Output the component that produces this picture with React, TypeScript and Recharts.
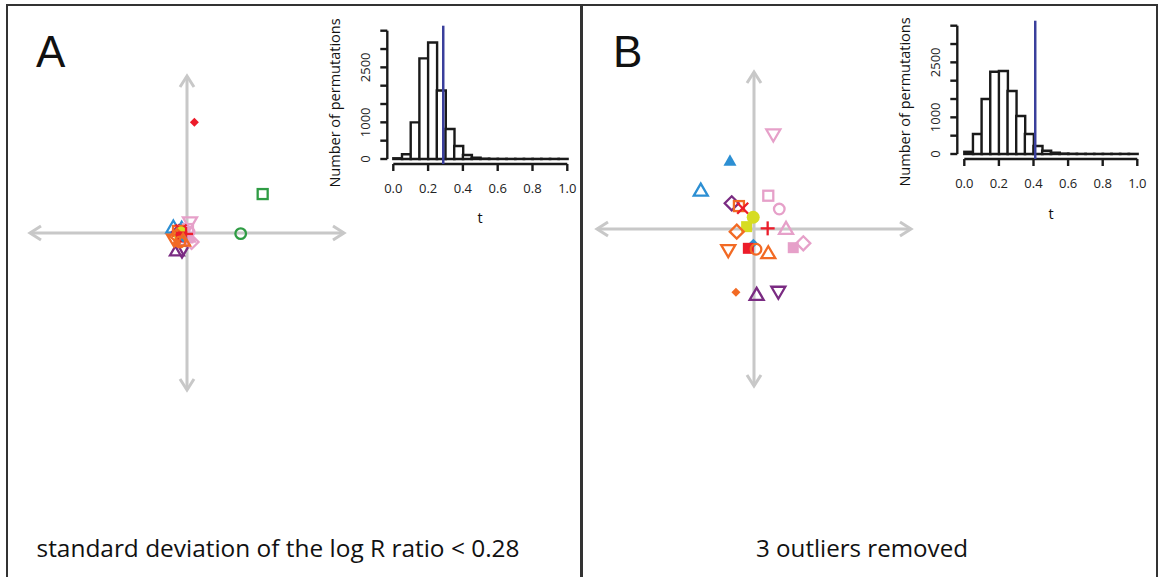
import React from 'react';
import { Bar, BarChart, ReferenceLine, Scatter, ScatterChart, XAxis, YAxis } from 'recharts';

// histogram bins (t, bin width 0.05) and permutation counts
const BIN_MIDS = [
  0.025, 0.075, 0.125, 0.175, 0.225, 0.275, 0.325, 0.375, 0.425, 0.475,
  0.525, 0.575, 0.625, 0.675, 0.725, 0.775, 0.825, 0.875, 0.925, 0.975,
];
const COUNTS_A = [20, 130, 1000, 2745, 3180, 1870, 820, 355, 110, 36, 10, 5, 4, 3, 3, 3, 3, 3, 3, 3];
const COUNTS_B = [60, 545, 1500, 2245, 2265, 1720, 1035, 545, 220, 90, 36, 12, 6, 4, 3, 3, 3, 3, 3, 3];
const T_OBS_A = 0.287;
const T_OBS_B = 0.41;
const X_TICKS = [0, 0.2, 0.4, 0.6, 0.8, 1.0];
const Y_TICKS = [0, 500, 1000, 1500, 2000, 2500, 3000, 3500];
const Y_LABELS = [0, 1000, 2500];

// scatter points, one per sample symbol
const POINTS_A = [
  { s: 'redDiamF', x: 0.047, y: 0.705 },
  { s: 'greenSq', x: 0.482, y: 0.248 },
  { s: 'greenCirc', x: 0.342, y: -0.004 },
  { s: 'purpleTri', x: -0.064, y: -0.108 },
  { s: 'purpleDown', x: -0.032, y: -0.115 },
  { s: 'blueTri', x: -0.087, y: 0.038 },
  { s: 'blueTriF', x: -0.034, y: 0.045 },
  { s: 'pinkDown', x: 0.019, y: 0.064 },
  { s: 'pinkSq', x: 0.006, y: 0.025 },
  { s: 'pinkCirc', x: 0.013, y: 0.006 },
  { s: 'pinkTri', x: 0.006, y: -0.019 },
  { s: 'pinkSqF', x: 0.006, y: -0.032 },
  { s: 'pinkDiam', x: 0.029, y: -0.057 },
  { s: 'purpleDiam', x: -0.051, y: 0.006 },
  { s: 'orangeSq', x: -0.057, y: 0.013 },
  { s: 'redX', x: -0.038, y: 0.019 },
  { s: 'yellowCircF', x: -0.038, y: 0.0 },
  { s: 'yellowSqF', x: -0.045, y: -0.019 },
  { s: 'redPlus', x: -0.006, y: -0.006 },
  { s: 'orangeDiam', x: -0.064, y: -0.019 },
  { s: 'orangeDown', x: -0.083, y: -0.045 },
  { s: 'redSqF', x: -0.038, y: -0.025 },
  { s: 'blueDiamF', x: -0.025, y: -0.032 },
  { s: 'orangeTri', x: -0.025, y: -0.045 },
  { s: 'orangeDiamF', x: -0.064, y: -0.064 },
  { s: 'orangeCirc', x: -0.045, y: -0.057 },
];

const POINTS_B = [
  { s: 'pinkDown', x: 0.123, y: 0.599 },
  { s: 'blueTriF', x: -0.153, y: 0.435 },
  { s: 'blueTri', x: -0.339, y: 0.248 },
  { s: 'pinkSq', x: 0.091, y: 0.212 },
  { s: 'pinkCirc', x: 0.161, y: 0.127 },
  { s: 'purpleDiam', x: -0.142, y: 0.164 },
  { s: 'orangeSq', x: -0.096, y: 0.146 },
  { s: 'redX', x: -0.072, y: 0.132 },
  { s: 'yellowSqF', x: -0.047, y: 0.015 },
  { s: 'yellowCircF', x: -0.005, y: 0.075 },
  { s: 'redPlus', x: 0.087, y: 0.004 },
  { s: 'pinkTri', x: 0.204, y: 0.004 },
  { s: 'orangeDiam', x: -0.11, y: -0.017 },
  { s: 'pinkDiam', x: 0.314, y: -0.091 },
  { s: 'pinkSqF', x: 0.25, y: -0.119 },
  { s: 'orangeDown', x: -0.164, y: -0.138 },
  { s: 'blueDiamF', x: -0.004, y: -0.091 },
  { s: 'redSqF', x: -0.036, y: -0.123 },
  { s: 'orangeCirc', x: 0.013, y: -0.129 },
  { s: 'orangeTri', x: 0.091, y: -0.151 },
  { s: 'orangeDiamF', x: -0.115, y: -0.403 },
  { s: 'purpleTri', x: 0.017, y: -0.416 },
  { s: 'purpleDown', x: 0.155, y: -0.403 },
];

const BLUE = '#2c8fd3';
const PINK = '#e6a0c9';
const RED = '#ec1c2a';
const ORANGE = '#f26a24';
const PURPLE = '#7a2b82';
const YELLOW = '#d6dc22';
const GREEN = '#2f9c44';
const GREY = '#c8c8c8';
const INK = '#1a1a1a';
const FONT = '"Open Sans", "Liberation Sans", sans-serif';

const MARKERS: Record<string, { shape: string; color: string }> = {
  redDiamF: { shape: 'diamF', color: RED },
  greenSq: { shape: 'sq', color: GREEN },
  greenCirc: { shape: 'circ', color: GREEN },
  purpleTri: { shape: 'tri', color: PURPLE },
  purpleDown: { shape: 'down', color: PURPLE },
  purpleDiam: { shape: 'diam', color: PURPLE },
  blueTri: { shape: 'tri', color: BLUE },
  blueTriF: { shape: 'triF', color: BLUE },
  blueDiamF: { shape: 'diamF', color: BLUE },
  pinkDown: { shape: 'down', color: PINK },
  pinkSq: { shape: 'sq', color: PINK },
  pinkCirc: { shape: 'circ', color: PINK },
  pinkTri: { shape: 'tri', color: PINK },
  pinkSqF: { shape: 'sqF', color: PINK },
  pinkDiam: { shape: 'diam', color: PINK },
  orangeSq: { shape: 'sq', color: ORANGE },
  orangeDiam: { shape: 'diam', color: ORANGE },
  orangeDown: { shape: 'down', color: ORANGE },
  orangeTri: { shape: 'tri', color: ORANGE },
  orangeCirc: { shape: 'circ', color: ORANGE },
  orangeDiamF: { shape: 'diamF', color: ORANGE },
  redX: { shape: 'x', color: RED },
  redPlus: { shape: 'plus', color: RED },
  redSqF: { shape: 'sqF', color: RED },
  yellowCircF: { shape: 'circF', color: YELLOW },
  yellowSqF: { shape: 'sqF', color: YELLOW },
};

function Marker(props: any) {
  const { cx, cy, payload } = props;
  const m = MARKERS[payload.s];
  const c = m.color;
  const sw = 2.3;
  const open = { fill: 'none', stroke: c, strokeWidth: sw };
  switch (m.shape) {
    case 'tri':
      return <polygon points={`${cx},${cy - 6.5} ${cx + 7},${cy + 5.5} ${cx - 7},${cy + 5.5}`} {...open} />;
    case 'triF':
      return <polygon points={`${cx},${cy - 6.5} ${cx + 6.5},${cy + 5} ${cx - 6.5},${cy + 5}`} fill={c} />;
    case 'down':
      return <polygon points={`${cx},${cy + 6.5} ${cx + 7},${cy - 5.5} ${cx - 7},${cy - 5.5}`} {...open} />;
    case 'sq':
      return <rect x={cx - 5} y={cy - 5} width={10} height={10} {...open} />;
    case 'sqF':
      return <rect x={cx - 5.5} y={cy - 5.5} width={11} height={11} fill={c} />;
    case 'circ':
      return <circle cx={cx} cy={cy} r={5.3} {...open} />;
    case 'circF':
      return <circle cx={cx} cy={cy} r={6.5} fill={c} />;
    case 'diam':
      return <polygon points={`${cx},${cy - 7} ${cx + 7},${cy} ${cx},${cy + 7} ${cx - 7},${cy}`} {...open} />;
    case 'diamF':
      return <polygon points={`${cx},${cy - 4.5} ${cx + 4.5},${cy} ${cx},${cy + 4.5} ${cx - 4.5},${cy}`} fill={c} />;
    case 'plus':
      return (
        <g stroke={c} strokeWidth={sw}>
          <line x1={cx - 7} y1={cy} x2={cx + 7} y2={cy} />
          <line x1={cx} y1={cy - 7} x2={cx} y2={cy + 7} />
        </g>
      );
    case 'x':
      return (
        <g stroke={c} strokeWidth={sw}>
          <line x1={cx - 5.5} y1={cy - 5.5} x2={cx + 5.5} y2={cy + 5.5} />
          <line x1={cx - 5.5} y1={cy + 5.5} x2={cx + 5.5} y2={cy - 5.5} />
        </g>
      );
    default:
      return <g />;
  }
}

// grey double-headed arrow for the scatter axes
function Arrow(p: any) {
  const { x1, y1, x2, y2 } = p;
  const len = Math.hypot(x2 - x1, y2 - y1) || 1;
  const ux = (x2 - x1) / len;
  const uy = (y2 - y1) / len;
  const h = 11;
  const w = 7;
  const head = (tx: number, ty: number, dx: number, dy: number) =>
    `${tx - dx * h - dy * w},${ty - dy * h + dx * w} ${tx},${ty} ${tx - dx * h + dy * w},${ty - dy * h - dx * w}`;
  return (
    <g stroke={GREY} strokeWidth={3} fill="none">
      <line x1={x1} y1={y1} x2={x2} y2={y2} />
      <polyline points={head(x2, y2, ux, uy)} />
      <polyline points={head(x1, y1, -ux, -uy)} />
    </g>
  );
}

function ScatterPanel({ points, left, top }: { points: any[]; left: number; top: number }) {
  return (
    <div style={{ position: 'absolute', left, top }}>
      <ScatterChart width={324} height={324} margin={{ top: 5, right: 5, bottom: 5, left: 5 }}>
        <XAxis type="number" dataKey="x" domain={[-1, 1]} hide />
        <YAxis type="number" dataKey="y" domain={[-1, 1]} hide />
        <ReferenceLine segment={[{ x: -1, y: 0 }, { x: 1, y: 0 }]} shape={Arrow} ifOverflow="visible" />
        <ReferenceLine segment={[{ x: 0, y: -1 }, { x: 0, y: 1 }]} shape={Arrow} ifOverflow="visible" />
        <Scatter data={points} shape={Marker} isAnimationActive={false} />
      </ScatterChart>
    </div>
  );
}

const shifted = (dx: number, dy: number) => (p: any) => (
  <line x1={p.x1 + dx} y1={p.y1 + dy} x2={p.x2 + dx} y2={p.y2 + dy} stroke={INK} strokeWidth={2.4} />
);

function YTick({ x, y, payload }: any) {
  if (!Y_LABELS.includes(payload.value)) return <g />;
  return (
    <text transform={`translate(${x},${y}) rotate(-90)`} textAnchor="middle" fontSize={13} fill="#222" fontFamily={FONT}>
      {payload.value}
    </text>
  );
}

function Histogram({ counts, tObs, box, plot }: any) {
  const data = BIN_MIDS.map((t, i) => ({ t, n: counts[i] }));
  const yW = 40;
  const xH = 30;
  const margin = {
    top: plot.top - box.top,
    left: plot.left - box.left - yW,
    right: box.left + box.width - plot.right,
    bottom: box.top + box.height - plot.bottom - xH,
  };
  return (
    <div style={{ position: 'absolute', left: box.left, top: box.top }}>
      <BarChart width={box.width} height={box.height} data={data} margin={margin} barCategoryGap={0}>
        <XAxis
          type="number"
          dataKey="t"
          domain={[0, 1]}
          ticks={X_TICKS}
          interval={0}
          padding={{ left: plot.padL, right: 0 }}
          axisLine={false}
          tickSize={7}
          tickMargin={13}
          tickLine={{ stroke: INK, strokeWidth: 2.4 }}
          tickFormatter={(v: number) => v.toFixed(1)}
          tick={{ fontSize: 13, fill: '#222', fontFamily: FONT }}
          height={xH}
        />
        <YAxis
          type="number"
          domain={[0, 3500]}
          ticks={Y_TICKS}
          interval={0}
          padding={{ top: plot.padT, bottom: plot.padB }}
          axisLine={false}
          tickSize={7}
          tickMargin={10}
          tickLine={{ stroke: INK, strokeWidth: 2.4 }}
          tick={<YTick />}
          width={yW}
        />
        <Bar dataKey="n" fill="#fff" stroke={INK} strokeWidth={2.4} isAnimationActive={false} />
        <ReferenceLine segment={[{ x: 0, y: 0 }, { x: 1, y: 0 }]} shape={shifted(0, plot.padB)} ifOverflow="visible" />
        <ReferenceLine segment={[{ x: 0, y: 0 }, { x: 0, y: 3500 }]} shape={shifted(-plot.padL, 0)} ifOverflow="visible" />
        <ReferenceLine x={tObs} stroke="#3a3f9c" strokeWidth={2.5} />
      </BarChart>
    </div>
  );
}

export default function App() {
  return (
    <div style={{ position: 'absolute', left: 0, top: 0, width: 1160, height: 577, overflow: 'hidden', background: '#fff' }}>
      <div
        style={{
          position: 'absolute',
          left: 5.5,
          top: 3.8,
          width: 1152,
          height: 640,
          border: '2.5px solid #333',
          boxSizing: 'border-box',
        }}
      />
      <div style={{ position: 'absolute', left: 580.3, top: 4, width: 2.5, height: 600, background: '#333' }} />

      <ScatterPanel points={POINTS_A} left={25} top={71} />
      <ScatterPanel points={POINTS_B} left={592} top={67} />

      <Histogram
        counts={COUNTS_A}
        tObs={T_OBS_A}
        box={{ left: 300, top: 0, width: 300, height: 240 }}
        plot={{ left: 387.3, right: 567.3, top: 25.7, bottom: 164, padL: 6, padT: 5, padB: 5 }}
      />
      <Histogram
        counts={COUNTS_B}
        tObs={T_OBS_B}
        box={{ left: 870, top: 0, width: 290, height: 240 }}
        plot={{ left: 957.3, right: 1137.3, top: 20.7, bottom: 159, padL: 7, padT: 5, padB: 5 }}
      />

      <svg width={1160} height={577} style={{ position: 'absolute', left: 0, top: 0, pointerEvents: 'none' }}>
        <g fontFamily={FONT} fill="#111">
          <text x={36} y={67} fontSize={44} fontFamily='"Liberation Sans", Arial, sans-serif'>A</text>
          <text x={613} y={67} fontSize={44} fontFamily='"Liberation Sans", Arial, sans-serif'>B</text>
          <text transform="translate(340,103) rotate(-90)" textAnchor="middle" fontSize={14.5}>Number of permutations</text>
          <text transform="translate(910,102) rotate(-90)" textAnchor="middle" fontSize={14.5}>Number of permutations</text>
          <text x={480} y={223} textAnchor="middle" fontSize={14.5}>t</text>
          <text x={1051} y={219} textAnchor="middle" fontSize={14.5}>t</text>
          <text x={278} y={557} textAnchor="middle" fontSize={24} textLength={483} lengthAdjust="spacingAndGlyphs">
            standard deviation of the log R ratio &lt; 0.28
          </text>
          <text x={862} y={557} textAnchor="middle" fontSize={24} textLength={212} lengthAdjust="spacingAndGlyphs">
            3 outliers removed
          </text>
        </g>
      </svg>
    </div>
  );
}
